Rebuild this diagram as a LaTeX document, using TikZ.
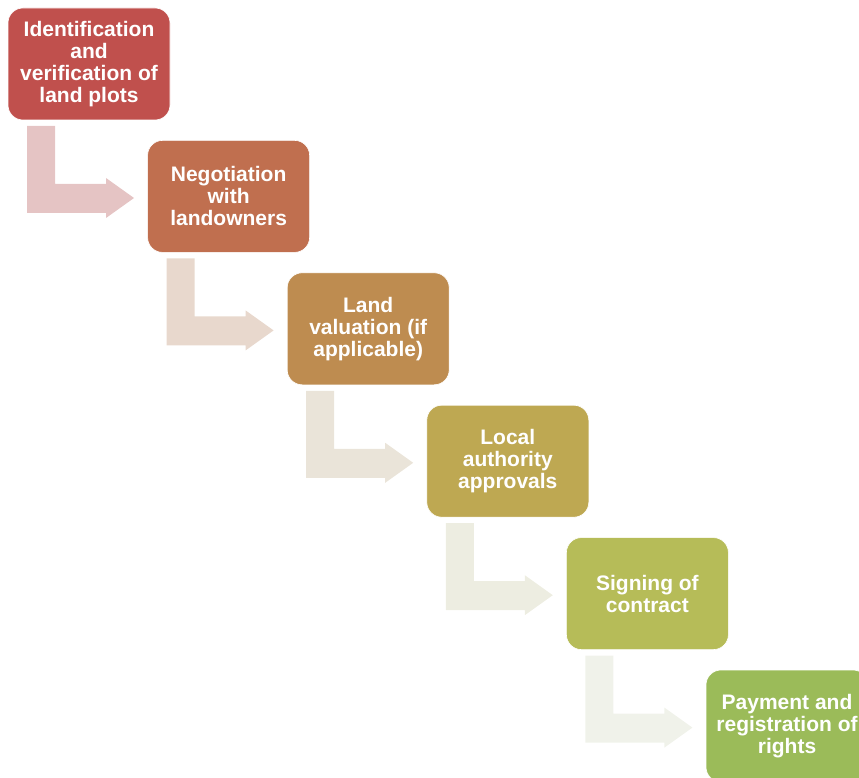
\documentclass[tikz,border=0pt]{standalone}
\usepackage{fontspec}
\setmainfont{Liberation Sans}
\definecolor{c1}{RGB}{192,80,77}
\definecolor{c2}{RGB}{192,111,79}
\definecolor{c3}{RGB}{190,140,80}
\definecolor{c4}{RGB}{190,168,82}
\definecolor{c5}{RGB}{182,188,88}
\definecolor{c6}{RGB}{155,187,89}
\definecolor{a1}{RGB}{229,196,196}
\definecolor{a2}{RGB}{232,216,205}
\definecolor{a3}{RGB}{234,228,217}
\definecolor{a4}{RGB}{237,237,225}
\definecolor{a5}{RGB}{240,242,234}
\tikzset{
  stepbox/.style={rectangle, rounded corners=15pt, draw=white, line width=0.6pt,
    minimum width=162pt, minimum height=112pt, inner sep=0pt, outer sep=0pt,
    text=white, align=center, font=\bfseries\fontsize{21}{22}\selectfont},
  bentarrow/.style={draw=none}
}
\newcommand{\bentarr}[2]{%
  \fill[#2, shift={(#1.south west)}] (19,6) -- (47,6) -- (47,64) -- (98,64) -- (98,58)
    -- (126,78) -- (98,98) -- (98,93) -- (19,93) -- cycle;}
\begin{document}
\begin{tikzpicture}[x=1pt,y=-1pt]
\useasboundingbox (0,0) rectangle (859,778);
\clip (0,0) rectangle (859,778);
\node[stepbox, fill=c1] (b1) at (89,64) {Identification\\and\\verification of\\land plots};
\node[stepbox, fill=c2] (b2) at (228.6,196.4) {Negotiation\\with\\landowners};
\node[stepbox, fill=c3] (b3) at (368.2,328.8) {Land\\valuation (if\\applicable)};
\node[stepbox, fill=c4] (b4) at (507.8,461.2) {Local\\authority\\approvals};
\node[stepbox, fill=c5] (b5) at (647.4,593.6) {Signing of\\contract};
\node[stepbox, fill=c6] (b6) at (787,726) {Payment and\\registration of\\rights};
\bentarr{b1}{a1}
\bentarr{b2}{a2}
\bentarr{b3}{a3}
\bentarr{b4}{a4}
\bentarr{b5}{a5}
\end{tikzpicture}
\end{document}
